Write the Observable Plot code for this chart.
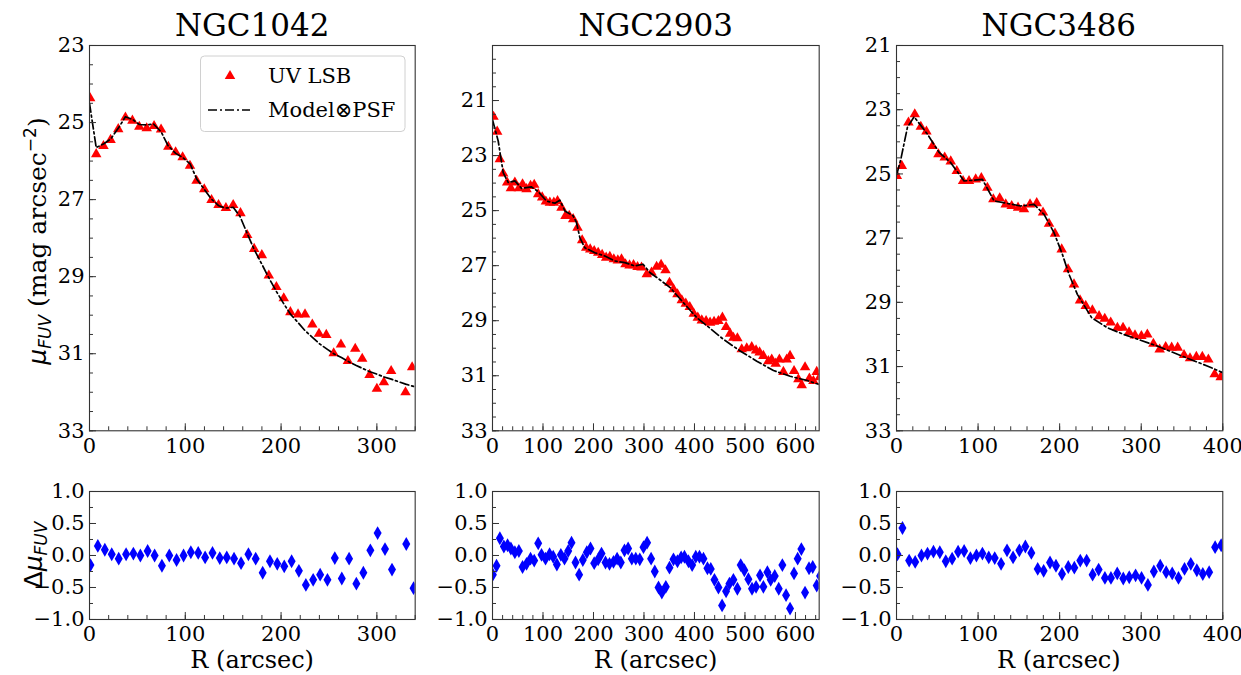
<!DOCTYPE html>
<html><head><meta charset="utf-8">
<script src="https://cdn.jsdelivr.net/npm/d3@7"></script>
<script src="https://cdn.jsdelivr.net/npm/@observablehq/plot@0.6"></script>
<style>
body{margin:0;background:#fff;}
#fig{position:relative;width:1241px;height:675px;overflow:hidden;background:#fff;}
</style></head><body><div id="fig"></div>
<script>
// ---------------- DATA ----------------
const titles = ["NGC1042", "NGC2903", "NGC3486"];

// NGC1042
const n1042_R  = [0.7, 7, 14.6, 22, 30, 37.5, 44.8, 52, 59.7, 67.4, 74.7, 82.3, 89.9, 97.2, 104.9, 111.8, 119.8, 127.4, 134.7, 142.4, 150, 157.6, 164.6, 171.9, 179.9, 187.2, 195.1, 202.8, 209.7, 217.7, 225, 232.6, 239.6, 247.2, 254.9, 262.5, 269.8, 277.4, 284.7, 292.4, 300, 307.3, 314.9, 329.9, 336.8];
const n1042_mu = [24.37, 25.82, 25.61, 25.45, 25.17, 24.87, 24.95, 25.11, 25.15, 25.09, 25.18, 25.63, 25.77, 25.9, 26.12, 26.51, 26.73, 27.01, 27.14, 27.22, 27.14, 27.35, 27.92, 28.28, 28.44, 28.97, 29.27, 29.56, 29.92, 29.98, 29.98, 30.24, 30.48, 30.51, 30.99, 30.76, 31.19, 30.87, 31.13, 31.55, 31.91, 31.74, 31.45, 32.0, 31.35];
const n1042_modelR  = [0, 7, 15, 22, 30, 37.5, 45, 52, 60, 67, 75, 82, 90, 97, 105, 112, 120, 127, 135, 142, 150, 157, 165, 172, 180, 187, 195, 203, 210, 218, 225, 233, 240, 248, 255, 263, 270, 278, 285, 292, 300, 307, 315, 322, 330, 340];
const n1042_modelMu = [24.5, 25.65, 25.55, 25.43, 25.15, 24.85, 24.92, 25.05, 25.06, 25.04, 25.25, 25.6, 25.8, 25.9, 26.07, 26.47, 26.74, 26.98, 27.16, 27.22, 27.2, 27.43, 27.9, 28.3, 28.68, 29.02, 29.38, 29.71, 29.98, 30.2, 30.4, 30.58, 30.74, 30.88, 31.0, 31.1, 31.2, 31.3, 31.38, 31.46, 31.53, 31.6, 31.66, 31.72, 31.79, 31.86];
const n1042_resR = [1, 8.7, 16, 23.2, 30.5, 38.2, 45.8, 53.1, 60.7, 68, 75.6, 83.3, 90.9, 98.2, 105.8, 113.5, 120.7, 128.4, 136, 143.3, 150.9, 158.2, 165.9, 173.5, 180.8, 188.4, 196, 203.3, 211, 218.6, 225.9, 233.5, 240.8, 248.4, 256.1, 263.4, 271, 278.6, 285.9, 293.2, 300.8, 308.5, 315.8, 330.7, 338.3];
const n1042_res  = [-0.15, 0.15, 0.09, 0.02, -0.05, 0.02, 0.03, 0, 0.07, 0, -0.16, 0, -0.07, 0, 0.05, 0.04, -0.03, 0.04, -0.04, -0.03, -0.05, -0.12, 0.02, -0.05, -0.27, -0.09, -0.13, -0.17, -0.09, -0.24, -0.46, -0.38, -0.3, -0.38, -0.04, -0.36, -0.05, -0.44, -0.27, 0.08, 0.35, 0.1, -0.22, 0.18, -0.51];

// NGC2903
const n2903_R  = [2, 9.3, 14.6, 21.2, 29.1, 36.4, 44.3, 52.2, 59.5, 67.4, 75.3, 82.6, 90.5, 98.4, 105.7, 113.6, 121.5, 128.8, 136.7, 144.6, 151.9, 159.8, 168.4, 177.6, 185.6, 193.5, 201.4, 209.3, 217.2, 225.1, 232.4, 240.3, 248.2, 255.5, 263.4, 271.4, 279.3, 287.2, 295.1, 305.6, 314.9, 325, 333.9, 342.6, 350.5, 358.4, 366.3, 374.9, 382.8, 390.7, 398.6, 406.6, 414.5, 423, 430.9, 438.8, 447.4, 455.3, 462.6, 470.5, 477.1, 485, 493.6, 503.5, 513.4, 522, 529, 536.5, 546.4, 553, 560.9, 568.2, 576.1, 582.7, 589.3, 597.2, 605.8, 612.4, 619, 627.6, 635.5, 642.1, 648];
const n2903_mu = [21.59, 22.13, 23.13, 23.65, 23.98, 24.19, 23.98, 24.19, 24.04, 24.22, 24.1, 24.06, 24.4, 24.52, 24.67, 24.71, 24.71, 24.65, 24.89, 25.19, 25.19, 25.31, 25.62, 26.08, 26.35, 26.41, 26.47, 26.53, 26.61, 26.71, 26.68, 26.77, 26.81, 26.77, 26.95, 26.99, 26.98, 27.05, 27.07, 27.31, 27.25, 27.04, 26.97, 27.17, 27.62, 27.86, 28.04, 28.26, 28.38, 28.5, 28.75, 28.89, 28.99, 29.01, 29.07, 29.04, 29.01, 28.89, 29.23, 29.47, 29.62, 29.64, 30.04, 30.0, 29.96, 30.08, 30.15, 30.28, 30.47, 30.41, 30.56, 30.41, 30.86, 30.41, 30.28, 30.83, 31.13, 31.34, 30.69, 31.1, 31.19, 30.86, 31.05];
const n2903_modelR  = [0, 11.3, 21.2, 31.1, 44.3, 57.5, 77.3, 90.5, 107, 123.5, 133.4, 143.3, 159.8, 166.4, 173, 182.9, 202.7, 222.5, 242.3, 262.1, 281.8, 298.3, 311.6, 325.5, 351.9, 378.3, 404.7, 431.1, 457.5, 490.5, 523.5, 556.5, 589.5, 622.5, 647];
const n2903_modelMu = [21.7, 22.47, 23.62, 23.98, 23.92, 24.19, 24.14, 24.31, 24.65, 24.73, 24.62, 25.01, 25.19, 25.44, 25.98, 26.35, 26.53, 26.65, 26.83, 26.89, 27.01, 26.95, 27.25, 27.43, 27.8, 28.35, 28.89, 29.28, 29.68, 30.1, 30.47, 30.81, 31.02, 31.17, 31.32];
const n2903_resR = [0.7, 8, 14.6, 22.5, 29.8, 36.4, 44.3, 52.2, 59.5, 67.4, 75.3, 82.6, 90.5, 97.1, 105, 113, 120.2, 127.5, 135.4, 142.6, 149.9, 156.5, 164.4, 171.6, 178.9, 186.8, 194.1, 201.4, 209.3, 215.9, 223.8, 231.7, 239.6, 246.8, 254.1, 261.4, 268.6, 275.9, 283.8, 291.7, 299, 306.2, 314.1, 321.4, 328.8, 335.4, 343.3, 350.5, 358.4, 366.3, 373.6, 380.2, 388.1, 395.4, 402.6, 409.9, 417.8, 425.7, 432.3, 439.6, 447.5, 454.7, 462.6, 469.2, 477.1, 485, 491.6, 498.8, 506.8, 514, 522, 529.9, 536.5, 544.4, 551, 559, 566.9, 574.1, 581.4, 589.3, 597.2, 604.4, 611.7, 619, 626.9, 634.2, 642.1, 648.7];
const n2903_res  = [-0.30, -0.16, 0.27, 0.14, 0.16, 0.11, 0.05, 0.07, -0.18, -0.13, -0.05, -0.08, 0.19, 0.01, -0.05, 0.02, -0.02, -0.14, 0.01, -0.05, 0.07, 0.2, -0.11, -0.3, -0.07, 0.05, 0.11, -0.12, -0.06, 0.03, -0.11, -0.13, -0.1, -0.05, -0.11, 0.08, 0.11, -0.05, -0.05, -0.06, 0.13, 0.2, -0.05, -0.25, -0.5, -0.58, -0.49, -0.19, -0.06, -0.09, -0.03, -0.02, -0.09, -0.15, -0.02, -0.02, -0.05, -0.2, -0.21, -0.38, -0.5, -0.78, -0.56, -0.44, -0.38, -0.52, -0.15, -0.23, -0.37, -0.52, -0.49, -0.31, -0.49, -0.26, -0.38, -0.32, -0.52, -0.15, -0.62, -0.83, -0.28, -0.05, 0.1, -0.58, -0.2, -0.18, -0.47, -0.32];

// NGC3486
const n3486_R  = [0.4, 6.5, 14.6, 22.4, 29.8, 36.7, 44.1, 51.4, 59.1, 66.5, 73.9, 81.6, 88.9, 97.1, 104, 111.4, 118.7, 126.5, 133.9, 141.2, 149, 156.3, 163.7, 171.9, 179.6, 187, 194.3, 202.5, 210.3, 217.6, 225, 232, 240.1, 248.3, 255.3, 262.6, 270.8, 277.7, 285.1, 292.4, 300.2, 307.5, 314.9, 322.6, 330, 337.3, 344.7, 352.5, 359.8, 367.6, 374.9, 382.3, 390, 397.4];
const n3486_mu = [25.06, 24.75, 23.4, 23.14, 23.53, 23.68, 24.13, 24.39, 24.49, 24.61, 24.91, 25.22, 25.22, 25.17, 25.13, 25.43, 25.79, 25.76, 25.95, 26.0, 26.05, 26.1, 25.95, 25.91, 26.2, 26.55, 26.86, 27.35, 27.97, 28.44, 28.94, 29.11, 29.25, 29.43, 29.51, 29.63, 29.79, 29.79, 29.93, 30.03, 30.05, 30.0, 30.29, 30.47, 30.39, 30.41, 30.41, 30.64, 30.74, 30.7, 30.7, 30.78, 31.24, 31.33];
const n3486_modelR  = [0.4, 5.3, 13.4, 21.6, 37.9, 52.2, 66.5, 82.8, 105.3, 119.6, 133.9, 152.3, 168.6, 180.9, 193.1, 203.3, 211.5, 221.7, 239.3, 258.4, 278.8, 299.2, 319.6, 340, 360.5, 380.9, 400];
const n3486_modelMu = [25.01, 24.54, 23.55, 23.22, 23.76, 24.33, 24.65, 25.22, 25.17, 25.84, 25.91, 26.0, 25.95, 26.26, 26.83, 27.5, 28.13, 28.75, 29.48, 29.79, 30.0, 30.18, 30.36, 30.57, 30.78, 30.98, 31.19];
const n3486_resR = [1.2, 7.3, 15.5, 22.9, 30.6, 38, 45.3, 53.1, 60.4, 68.2, 75.5, 82.9, 90.6, 98, 105.3, 113.1, 120.4, 128.2, 135.5, 142.9, 150.6, 158, 165.3, 173.1, 180.4, 188.2, 195.5, 202.9, 210.6, 218, 225.3, 233.1, 240.4, 247.8, 255.5, 262.9, 270.6, 278, 285.3, 293.1, 300.4, 308.2, 315.5, 323.3, 330.6, 338, 345.7, 353.1, 360.8, 368.2, 375.5, 383.3, 390.6, 398];
const n3486_res  = [0.02, 0.43, -0.08, -0.10, 0.0, 0.03, 0.06, 0.05, -0.09, -0.05, 0.06, 0.07, -0.04, 0.0, 0.03, -0.03, -0.04, -0.13, 0.08, -0.03, 0.08, 0.14, 0.04, -0.21, -0.24, -0.11, -0.16, -0.29, -0.18, -0.19, -0.08, -0.08, -0.30, -0.22, -0.35, -0.35, -0.28, -0.36, -0.34, -0.31, -0.35, -0.46, -0.25, -0.16, -0.26, -0.28, -0.35, -0.21, -0.13, -0.23, -0.29, -0.26, 0.13, 0.16];

// axis ticks / labels
const xTicks1042 = [0, 100, 200, 300];
const xTicks2903 = [0, 100, 200, 300, 400, 500, 600];
const xTicks3486 = [0, 100, 200, 300, 400];
const yTicks1042 = [23, 25, 27, 29, 31, 33];
const yTicks2903 = [21, 23, 25, 27, 29, 31, 33];
const yTicks3486 = [21, 23, 25, 27, 29, 31, 33];
const resTicks = [-1.0, -0.5, 0.0, 0.5, 1.0];
const legendLabels = ["UV LSB", "Model\u2297PSF"];

// ---------------- DRAW ----------------
const fig = document.getElementById("fig");
const ML = 60, MR = 18, MT = 10, MB = 40;
const table = (xs, ys, kx, ky) => xs.map((v, i) => ({[kx]: v, [ky]: ys[i]}));
const step = (a, b, s) => d3.range(a, b + s / 2, s);

function panel({left, top, width, height, xDomain, yDomain, xMajor, yMajor, yMinorStep, yFormat, marks}) {
  const yLo = Math.min(...yDomain), yHi = Math.max(...yDomain);
  const p = Plot.plot({
    width: width + ML + MR, height: height + MT + MB,
    marginLeft: ML, marginRight: MR, marginTop: MT, marginBottom: MB,
    style: {fontFamily: "DejaVu Serif", fontSize: "21px", background: "transparent", color: "#000", overflow: "visible"},
    x: {domain: xDomain, label: null},
    y: {domain: yDomain, label: null},
    marks: [
      ...marks,
      Plot.frame({stroke: "#333", strokeWidth: 1.1}),
      Plot.axisX({ticks: step(xDomain[0], xDomain[1], 20), tickSize: -4, fill: "none", stroke: "#333", label: null}),
      Plot.axisX({ticks: xMajor, tickSize: -7, tickPadding: 14, stroke: "#333", label: null, tickFormat: d => String(d)}),
      Plot.axisY({ticks: step(yLo, yHi, yMinorStep), tickSize: -4, fill: "none", stroke: "#333", label: null}),
      Plot.axisY({ticks: yMajor, tickSize: -7, tickPadding: 12, stroke: "#333", label: null, tickFormat: yFormat})
    ]
  });
  p.style.position = "absolute";
  p.style.left = (left - ML) + "px";
  p.style.top = (top - MT) + "px";
  fig.appendChild(p);
  return p;
}

const dash = "9,3,2,3";
function topMarks(R, mu, mR, mMu) {
  return [
    Plot.dot(table(R, mu, "R", "mu"), {x: "R", y: "mu", symbol: "triangle", r: 3.9, fill: "#ff0000", clip: true}),
    Plot.line(table(mR, mMu, "R", "mu"), {x: "R", y: "mu", stroke: "#000", strokeWidth: 1.7, strokeDasharray: dash, clip: true})
  ];
}
function resMarks(R, d) {
  return [Plot.dot(table(R, d, "R", "d"), {x: "R", y: "d", symbol: "diamond", r: 4.2, fill: "#0000ff", clip: true})];
}

const cols = [
  {left: 89.3, width: 325.7, xDomain: [0, 340], xMajor: xTicks1042, yDomain: [33, 23], yMajor: yTicks1042,
   data: [n1042_R, n1042_mu, n1042_modelR, n1042_modelMu], res: [n1042_resR, n1042_res]},
  {left: 492.3, width: 326.7, xDomain: [0, 647], xMajor: xTicks2903, yDomain: [33, 19], yMajor: yTicks2903,
   data: [n2903_R, n2903_mu, n2903_modelR, n2903_modelMu], res: [n2903_resR, n2903_res]},
  {left: 895.7, width: 326.3, xDomain: [0, 400], xMajor: xTicks3486, yDomain: [33, 21], yMajor: yTicks3486,
   data: [n3486_R, n3486_mu, n3486_modelR, n3486_modelMu], res: [n3486_resR, n3486_res]}
];

cols.forEach(c => {
  panel({left: c.left, top: 44.7, width: c.width, height: 385.3, xDomain: c.xDomain, yDomain: c.yDomain,
         xMajor: c.xMajor, yMajor: c.yMajor, yMinorStep: 0.5, yFormat: d => String(d),
         marks: topMarks(...c.data)});
  panel({left: c.left, top: 491, width: c.width, height: 128, xDomain: c.xDomain, yDomain: [-1, 1],
         xMajor: c.xMajor, yMajor: resTicks, yMinorStep: 0.25, yFormat: d3.format(".1f"),
         marks: resMarks(...c.res)});
});

// overlay: titles, axis titles, legend
const svg = d3.select(fig).append("svg")
  .attr("width", 1241).attr("height", 675)
  .style("position", "absolute").style("left", "0px").style("top", "0px")
  .style("pointer-events", "none")
  .style("font-family", "DejaVu Serif");

cols.forEach((c, i) => {
  const cx = c.left + c.width / 2;
  svg.append("text").attr("x", cx).attr("y", 36).attr("text-anchor", "middle")
    .attr("font-size", 31).text(titles[i]);
  svg.append("text").attr("x", cx).attr("y", 668).attr("text-anchor", "middle")
    .attr("font-size", 24).text("R (arcsec)");
});

const yl = svg.append("text").attr("transform", "translate(46,241) rotate(-90)")
  .attr("text-anchor", "middle").attr("font-size", 25);
yl.append("tspan").attr("font-family", "DejaVu Sans").attr("font-style", "italic").text("\u03bc");
yl.append("tspan").attr("font-family", "DejaVu Sans").attr("font-style", "italic").attr("font-size", 17).attr("dy", 5).text("FUV");
yl.append("tspan").attr("dy", -5).text(" (mag arcsec");
yl.append("tspan").attr("font-family", "DejaVu Sans").attr("font-size", 17).attr("dy", -10).text("\u22122");
yl.append("tspan").attr("dy", 10).text(")");

const rl = svg.append("text").attr("transform", "translate(42,555) rotate(-90)")
  .attr("text-anchor", "middle").attr("font-size", 25).attr("font-family", "DejaVu Sans");
rl.append("tspan").text("\u0394");
rl.append("tspan").attr("font-style", "italic").text("\u03bc");
rl.append("tspan").attr("font-style", "italic").attr("font-size", 17).attr("dy", 5).text("FUV");

// legend
const lg = svg.append("g");
lg.append("rect").attr("x", 200.5).attr("y", 56).attr("width", 204.5).attr("height", 75.5).attr("rx", 4)
  .attr("fill", "white").attr("fill-opacity", 0.8).attr("stroke", "#d0d0d0");
lg.append("path").attr("transform", "translate(230,76)")
  .attr("d", d3.symbol(d3.symbolTriangle, Math.PI * 3.9 * 3.9)()).attr("fill", "#ff0000");
lg.append("line").attr("x1", 208).attr("x2", 250).attr("y1", 110).attr("y2", 110)
  .attr("stroke", "#000").attr("stroke-width", 1.7).attr("stroke-dasharray", dash);
lg.append("text").attr("x", 268).attr("y", 76).attr("dy", "0.35em").attr("font-size", 21).text(legendLabels[0]);
lg.append("text").attr("x", 268).attr("y", 110).attr("dy", "0.35em").attr("font-size", 21).text(legendLabels[1]);
</script></body></html>
